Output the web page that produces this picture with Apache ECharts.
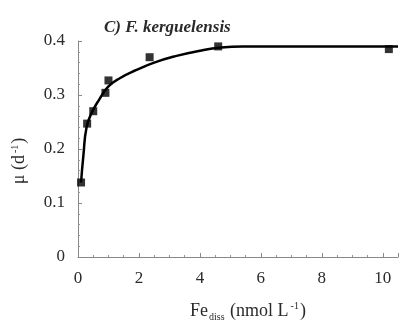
<!DOCTYPE html>
<html><head><meta charset="utf-8">
<script src="https://cdn.jsdelivr.net/npm/echarts@6/dist/echarts.min.js"></script>
<style>html,body{margin:0;padding:0;background:#fff}#c{width:401px;height:327px}</style>
</head><body><div id="c"></div>
<script>
var title = 'C) F. kerguelensis';
var pointX = [0.1, 0.3, 0.5, 0.9, 1.0, 2.35, 4.6, 10.2];
var pointY = [0.138, 0.247, 0.270, 0.304, 0.327, 0.370, 0.390, 0.385];
var curveX = [0.1, 0.18, 0.28, 0.45, 0.7, 1.0, 1.4, 1.9, 2.5, 3.2, 4.0, 4.7, 5.4, 10.5];
var curveY = [0.138, 0.190, 0.240, 0.267, 0.292, 0.316, 0.332, 0.346, 0.360, 0.372, 0.382, 0.388, 0.390, 0.390];
var xTicks = [0, 2, 4, 6, 8, 10];
var yTicks = [0, 0.1, 0.2, 0.3, 0.4];

var font = 'Liberation Serif';
var chart = echarts.init(document.getElementById('c'), null, {renderer: 'canvas'});
chart.setOption({
  animation: false,
  backgroundColor: '#fff',
  title: {
    text: title, left: 99, top: 14,
    textStyle: {fontFamily: font, fontStyle: 'italic', fontWeight: 'bold', fontSize: 17, color: '#2a2a2a'}
  },
  grid: {left: 78, right: 2, top: 41, bottom: 60, containLabel: false},
  xAxis: {
    type: 'value', min: 0, max: 10.5, interval: 2,
    axisLine: {lineStyle: {color: '#888', width: 1}},
    axisTick: {inside: true, length: 4, lineStyle: {color: '#888'}},
    minorTick: {show: true, splitNumber: 4, length: 2, lineStyle: {color: '#999'}},
    splitLine: {show: false},
    axisLabel: {
      fontFamily: font, fontSize: 17, color: '#2a2a2a', margin: 13,
      formatter: function (v) { return xTicks.indexOf(v) >= 0 ? String(v) : ''; }
    },
    name: '{a|Fe}{sub|diss}{a| (nmol L}{sup|-1}{a|)}',
    nameLocation: 'middle', nameGap: 43,
    nameTextStyle: {
      padding: [0, 0, 0, 20],
      rich: {
        a: {fontFamily: font, fontSize: 18, color: '#2a2a2a'},
        sub: {fontFamily: font, fontSize: 10, color: '#2a2a2a', padding: [12, 1, 0, 1]},
        sup: {fontFamily: font, fontSize: 10, color: '#2a2a2a', padding: [0, 1, 9, 2]}
      }
    }
  },
  yAxis: {
    type: 'value', min: 0, max: 0.4, interval: 0.1,
    axisLine: {show: true, lineStyle: {color: '#888', width: 1}},
    axisTick: {show: true, inside: true, length: 4, lineStyle: {color: '#888'}},
    minorTick: {show: true, splitNumber: 5, length: 2, lineStyle: {color: '#999'}},
    splitLine: {show: false},
    axisLabel: {
      fontFamily: font, fontSize: 17, color: '#2a2a2a', margin: 13,
      formatter: function (v) {
        var r = Math.round(v * 10) / 10;
        return yTicks.indexOf(r) >= 0 ? (r === 0 ? '0' : r.toFixed(1)) : '';
      }
    },
    name: '{a|μ (d}{sup|-1}{a|)}',
    nameLocation: 'middle', nameGap: 49, nameRotate: 90,
    nameTextStyle: {
      padding: [0, 24, 0, 0],
      rich: {
        a: {fontFamily: font, fontSize: 18, color: '#2a2a2a'},
        sup: {fontFamily: font, fontSize: 10, color: '#2a2a2a', padding: [0, 1, 9, 2]}
      }
    }
  },
  series: [
    {
      type: 'line', smooth: 0.5, showSymbol: false, silent: true,
      data: curveX.map(function (x, i) { return [x, curveY[i]]; }),
      lineStyle: {color: '#000', width: 2.5}
    },
    {
      type: 'scatter', symbol: 'rect', symbolSize: 8,
      data: pointX.map(function (x, i) { return [x, pointY[i]]; }),
      itemStyle: {color: '#000'}
    }
  ]
});
</script></body></html>
